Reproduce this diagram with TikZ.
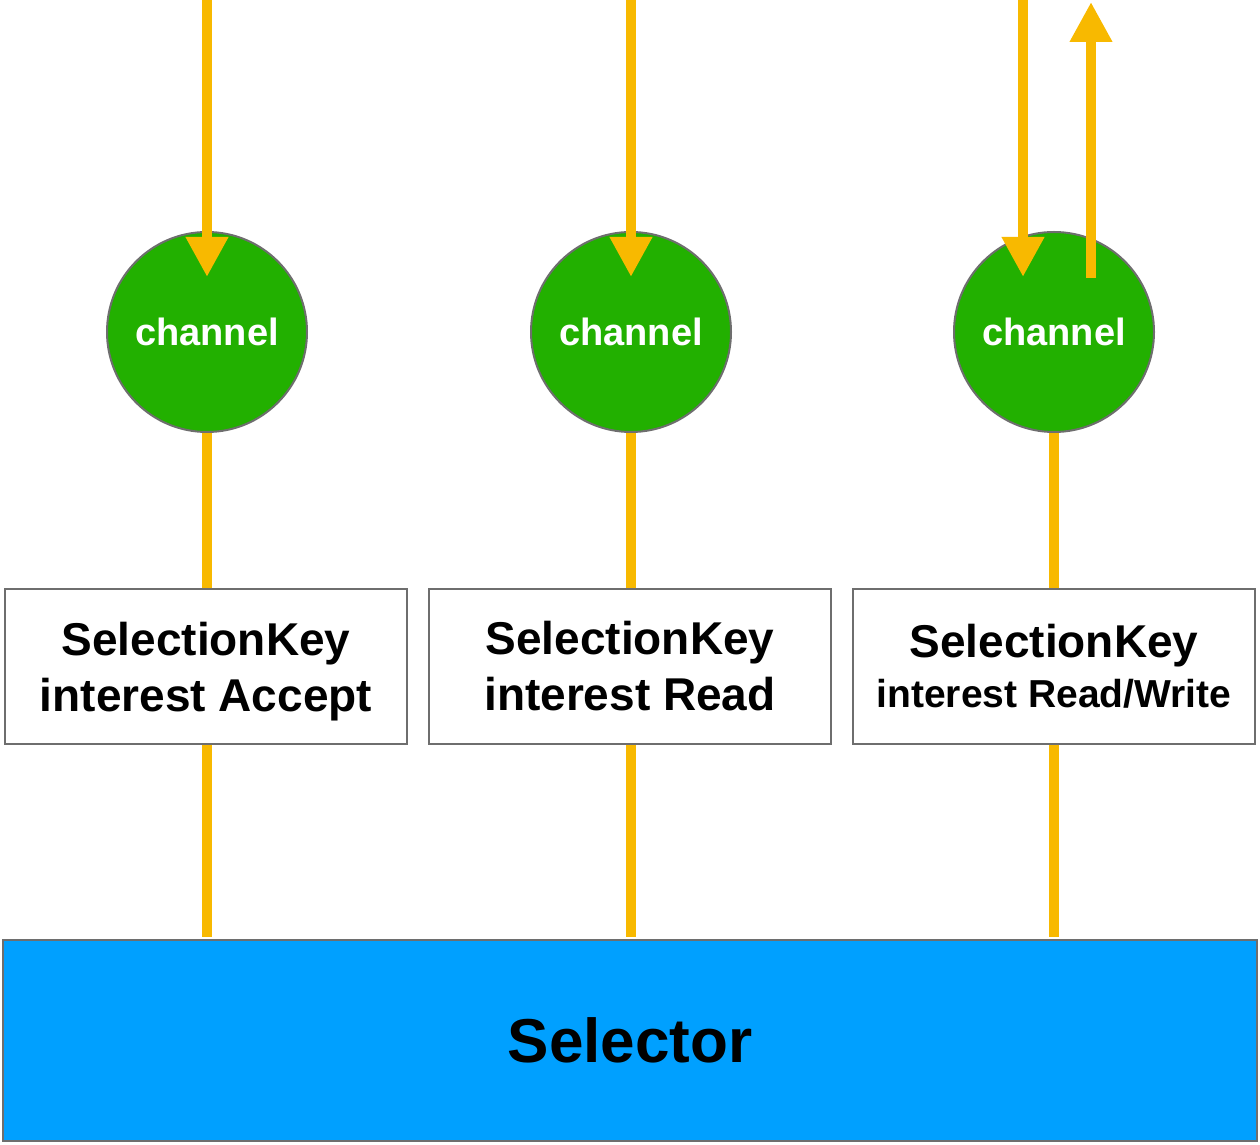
\documentclass[tikz,border=0pt]{standalone}
\usepackage{fontspec}
\setmainfont{Liberation Sans}
\usetikzlibrary{arrows.meta}
\definecolor{chgreen}{RGB}{34,176,0}
\definecolor{flow}{RGB}{248,185,0}
\definecolor{selblue}{RGB}{0,160,255}
\definecolor{edge}{RGB}{110,110,110}
\tikzset{
  chan/.style={circle, draw=edge, line width=2pt, fill=chgreen, minimum size=200pt, inner sep=0pt,
    text=white, font=\bfseries\fontsize{38}{45}\selectfont},
  keybox/.style={rectangle, draw=edge, line width=2pt, fill=white, minimum width=402pt, minimum height=155pt,
    inner sep=0pt, align=center, font=\bfseries\fontsize{46}{56}\selectfont},
  selbox/.style={rectangle, draw=edge, line width=2pt, fill=selblue, minimum width=1254pt, minimum height=201pt,
    inner sep=0pt, font=\bfseries\fontsize{62}{70}\selectfont},
  wire/.style={draw=flow, line width=10pt},
  arr/.style={wire, -{Triangle[width=40pt,length=40pt]}},
}
\begin{document}
\begin{tikzpicture}[x=1pt,y=1pt]
\useasboundingbox (0,0) rectangle (1260,1144);
% selector and keys
\node[selbox] (sel) at (630,103.5) {Selector};
\node[keybox] (k1) at (206,477.5) {SelectionKey\\\raisebox{0pt}[\height][0pt]{interest Accept}};
\node[keybox] (k2) at (630,477.5) {SelectionKey\\interest Read};
\node[keybox] (k3) at (1054,477.5) {SelectionKey\\[-6pt]{\fontsize{39}{45}\selectfont interest Read/Write}};
% channels
\node[chan] (c1) at (207,812) {channel};
\node[chan] (c2) at (631,812) {channel};
\node[chan] (c3) at (1054,812) {channel};
% connectors between circles, keys and selector
\draw[wire] (c1.south) -- (c1.south |- k1.north);
\draw[wire] (c2.south) -- (c2.south |- k2.north);
\draw[wire] (c3.south) -- (c3.south |- k3.north);
\draw[wire] (k1.south -| c1.south) -- ([yshift=2pt]sel.north -| c1.south);
\draw[wire] (k2.south -| c2.south) -- ([yshift=2pt]sel.north -| c2.south);
\draw[wire] (k3.south -| c3.south) -- ([yshift=2pt]sel.north -| c3.south);
% incoming / outgoing arrows
\coordinate (t1) at (207,1144);
\coordinate (t2) at (631,1144);
\coordinate (t3) at (1023,1144);
\coordinate (t4) at (1091,1142);
\coordinate (e1) at (207,867);
\coordinate (e2) at (631,867);
\coordinate (e3) at (1023,867);
\coordinate (s4) at (1091,866);
\draw[arr] (t1) -- (e1);
\draw[arr] (t2) -- (e2);
\draw[arr] (t3) -- (e3);
\draw[arr] (s4) -- (t4);
\end{tikzpicture}
\end{document}
